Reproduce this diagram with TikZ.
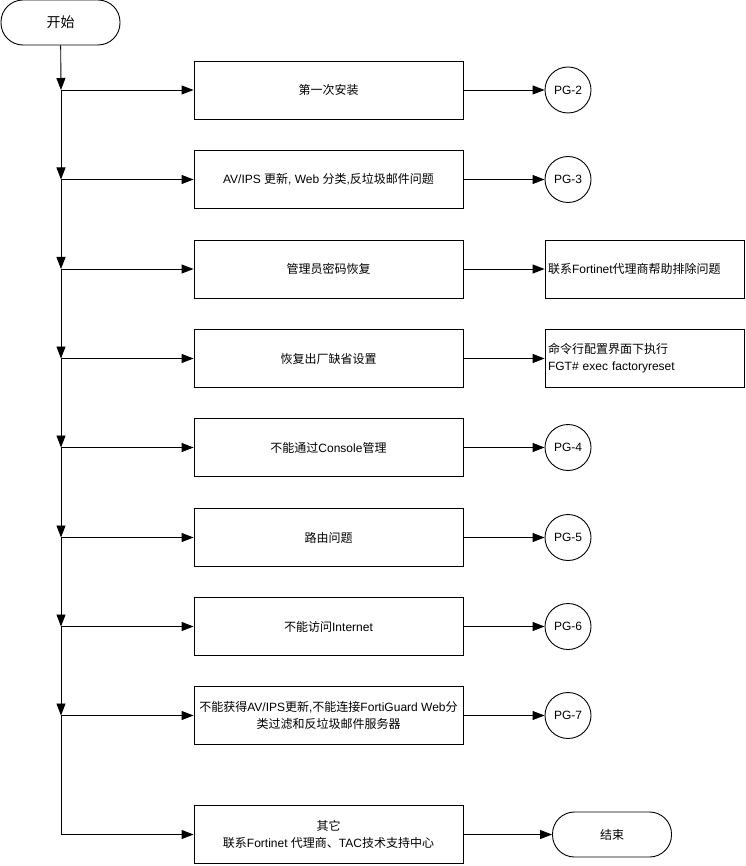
\documentclass[tikz,border=0pt]{standalone}
\usepackage{fontspec}
\setmainfont{Liberation Sans}
\newfontfamily\cjk{Noto Sans CJK SC}
\newcommand\C[1]{{\cjk #1}}
\usetikzlibrary{arrows.meta}
\begin{document}
\begin{tikzpicture}[x=1pt,y=-1pt,
  font=\fontsize{12}{17}\selectfont,
  line width=0.9pt,
  arr/.style={-{Triangle[length=12pt,width=9pt]}},
  box/.style={draw, minimum width=269pt, minimum height=58pt, inner sep=1pt, align=center},
  rbox/.style={draw, minimum width=199pt, minimum height=58pt, inner sep=3pt, align=left, text width=193pt},
  pg/.style={draw, circle, minimum size=46pt, inner sep=0pt},
  term/.style={draw, rectangle, rounded corners=22pt, minimum width=119pt, minimum height=45pt, inner sep=0pt}
]
\useasboundingbox (0,0) rectangle (745,866);

\node[term, font=\fontsize{14}{16}\selectfont] (start) at (60.5,22.5) {\C{开始}};

\node[box] (b1) at (328.5,90) {\C{第一次安装}};
\node[box] (b2) at (328.5,179.5) {AV/IPS \C{更新}, Web \C{分类},\C{反垃圾邮件问题}};
\node[box] (b3) at (328.5,269) {\C{管理员密码恢复}};
\node[box] (b4) at (328.5,358.5) {\C{恢复出厂缺省设置}};
\node[box] (b5) at (328.5,447.5) {\C{不能通过}Console\C{管理}};
\node[box] (b6) at (328.5,537.5) {\C{路由问题}};
\node[box] (b7) at (328.5,626.5) {\C{不能访问}Internet};
\node[box] (b8) at (328.5,715.5) {\C{不能获得}AV/IPS\C{更新},\C{不能连接}FortiGuard Web\C{分}\\\C{类过滤和反垃圾邮件服务器}};
\node[box] (b9) at (328.5,834.5) {\C{其它}\\\C{联系}Fortinet \C{代理商、}TAC\C{技术支持中心}};

\node[pg] (p2) at (568,90) {PG-2};
\node[pg] (p3) at (568,179.5) {PG-3};
\node[rbox] (r3) at (644.5,269) {\C{联系}Fortinet\C{代理商帮助排除问题}};
\node[rbox] (r4) at (644.5,358.5) {\C{命令行配置界面下执行}\\FGT\# exec factoryreset};
\node[pg] (p4) at (568,447.5) {PG-4};
\node[pg] (p5) at (568,537.5) {PG-5};
\node[pg] (p6) at (568,626.5) {PG-6};
\node[pg] (p7) at (568,715.5) {PG-7};
\node[term] (end) at (612,834.5) {\C{结束}};

\foreach \i/\y in {1/90,2/179.5,3/269,4/358.5,5/447.5,6/537.5,7/626.5,8/715.5}
  \coordinate (s\i) at (61,\y);

\draw[arr] (start) -- (s1);
\foreach \a/\b in {1/2,2/3,3/4,4/5,5/6,6/7,7/8}
  \draw[arr] (s\a) -- (s\b);
\foreach \i in {1,...,8}
  \draw[arr] (s\i) -- (b\i.west);
\draw[arr] (s8) |- (b9.west);

\draw[arr] (b1) -- (p2);
\draw[arr] (b2) -- (p3);
\draw[arr] (b3) -- (r3);
\draw[arr] (b4) -- (r4);
\draw[arr] (b5) -- (p4);
\draw[arr] (b6) -- (p5);
\draw[arr] (b7) -- (p6);
\draw[arr] (b8) -- (p7);
\draw[arr] (b9) -- (end);
\end{tikzpicture}
\end{document}
